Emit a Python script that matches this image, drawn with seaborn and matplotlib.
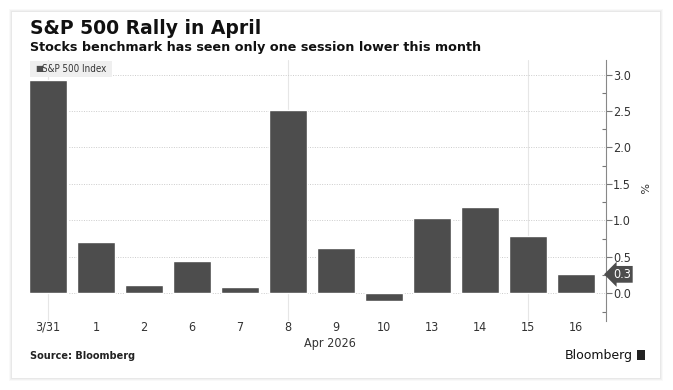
import matplotlib
matplotlib.use("Agg")
import matplotlib.pyplot as plt
from matplotlib.patches import Rectangle, FancyBboxPatch
from matplotlib.ticker import MultipleLocator
import seaborn as sns
import pandas as pd

dates = ["3/31", "1", "2", "6", "7", "8", "9", "10", "13", "14", "15", "16"]
changes = [2.92, 0.71, 0.11, 0.44, 0.08, 2.51, 0.62, -0.11, 1.03, 1.18, 0.79, 0.26]
last_label = "0.3"
week_starts = [0, 5, 10]

df = pd.DataFrame({"date": dates, "pct": changes})

sns.set_style("white")
narrow = ["Liberation Sans Narrow", "DejaVu Sans"]
plt.rcParams["font.family"] = ["DejaVu Sans"]

W, H = 673, 390
fig = plt.figure(figsize=(W / 100, H / 100), dpi=100, facecolor="white")

# card with a soft shadow
for i, a in enumerate([0.025, 0.03, 0.035]):
    pad = 3 - i
    fig.patches.append(Rectangle(((12 - pad) / W, 1 - (378 + pad) / H),
                                 (648 + 2 * pad) / W, (366 + 2 * pad) / H,
                                 transform=fig.transFigure, color="black",
                                 alpha=a, lw=0, zorder=0))
fig.patches.append(Rectangle((12 / W, 1 - 378 / H), 648 / W, 366 / H,
                             transform=fig.transFigure, color="white",
                             lw=0, zorder=1))

ax = fig.add_axes([30 / W, 1 - 321 / H, 576 / W, 261 / H])
ax.set_facecolor("none")
ax.set_zorder(2)

sns.barplot(data=df, x="date", y="pct", color="#4d4d4d", width=0.78,
            saturation=1, ax=ax, zorder=3)

ax.set_xlim(-0.375, 11.625)
ax.set_ylim(-0.38, 3.2)

ax.yaxis.tick_right()
ax.yaxis.set_major_locator(MultipleLocator(0.5))
ax.yaxis.set_minor_locator(MultipleLocator(0.25))
ax.tick_params(axis="y", which="major", direction="out", length=4, width=0.8,
               color="#777777", labelsize=9, labelcolor="#333333", pad=1)
ax.tick_params(axis="y", which="minor", direction="in", length=3, width=0.8,
               color="#777777")
ax.tick_params(axis="x", length=0, labelsize=9, labelcolor="#333333", pad=0)
for lab in ax.get_yticklabels() + ax.get_xticklabels():
    lab.set_family(narrow)
    lab.set_stretch("condensed")

for s in ["left", "top", "bottom"]:
    ax.spines[s].set_visible(False)
ax.spines["right"].set_color("#888888")
ax.spines["right"].set_linewidth(0.8)

ax.yaxis.grid(True, which="major", linestyle=(0, (1, 1.5)), color="#cccccc", lw=0.7)
for x in week_starts:
    ax.axvline(x, color="#e6e6e6", lw=0.8, zorder=0)
ax.set_axisbelow(True)
ax.set_xlabel("")
ax.set_ylabel("")

# % label on the right
fig.text(642 / W, 1 - 188 / H, "%", rotation=-90, fontsize=8, color="#333333",
         ha="center", va="center", zorder=5)

# last value tag
ax.annotate(last_label, xy=(1.0, changes[-1]), xycoords=("axes fraction", "data"),
            xytext=(5, 0), textcoords="offset points", ha="left", va="center",
            fontsize=9, color="white", family=narrow, stretch="condensed",
            bbox=dict(boxstyle="larrow,pad=0.15", fc="#4d4d4d", ec="none"),
            annotation_clip=False, zorder=6)

# legend chip
fig.patches.append(Rectangle((30 / W, 1 - 77 / H), 82 / W, 16 / H,
                             transform=fig.transFigure, color="#efefef",
                             lw=0, zorder=4))
fig.text(35 / W, 1 - 69 / H, "\u25a0", fontsize=6, color="#4d4d4d",
         va="center", zorder=5)
fig.text(42 / W, 1 - 69 / H, "S&P 500 Index", fontsize=7, color="#333333",
         va="center", family=narrow, stretch="condensed", zorder=5)

# x group label
fig.text(330 / W, 1 - 344 / H, "Apr 2026", fontsize=9, color="#333333",
         ha="center", va="center", family=narrow, stretch="condensed", zorder=5)

# titles
fig.text(30 / W, 1 - 28 / H, "S&P 500 Rally in April", fontsize=13.5,
         fontweight="bold", color="#111111", va="center", zorder=5)
fig.text(30 / W, 1 - 47 / H, "Stocks benchmark has seen only one session lower this month",
         fontsize=9.2, fontweight="bold", color="#111111", va="center", zorder=5)

# footer
fig.text(30 / W, 1 - 356 / H, "Source: Bloomberg", fontsize=7,
         fontweight="bold", color="#222222", va="center", zorder=5)
fig.text(633 / W, 1 - 355 / H, "Bloomberg", fontsize=9, color="#111111",
         ha="right", va="center", zorder=5)
fig.patches.append(FancyBboxPatch((637 / W, 1 - 360 / H), 8 / W, 10 / H,
                                  boxstyle="round,pad=0", transform=fig.transFigure,
                                  color="#222222", lw=0, zorder=5))

fig.savefig("out.png", dpi=100, facecolor="white")
